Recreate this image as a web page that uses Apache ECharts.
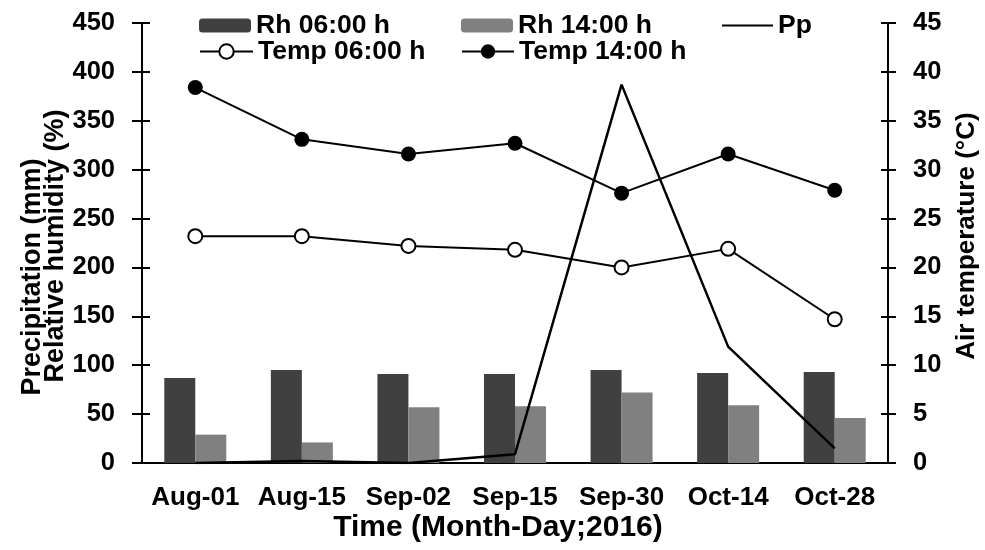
<!DOCTYPE html>
<html>
<head>
<meta charset="utf-8">
<script src="https://cdn.jsdelivr.net/npm/echarts@6/dist/echarts.min.js"></script>
<style>html,body{margin:0;padding:0;background:#fff}#c{width:985px;height:550px}</style>
</head>
<body>
<div id="c"></div>
<script>
const categories = ['Aug-01','Aug-15','Sep-02','Sep-15','Sep-30','Oct-14','Oct-28'];
const rh06 = [87, 95, 91, 91, 95, 92, 93];
const rh14 = [29, 21, 57, 58, 72, 59, 46];
const pp = [0, 2, 0, 9, 387, 119, 15];
const temp06 = [23.2, 23.2, 22.2, 21.8, 20.0, 21.9, 14.7];
const temp14 = [38.4, 33.1, 31.6, 32.7, 27.6, 31.6, 27.9];
const leftAxis = {min: 0, max: 450, interval: 50};
const rightAxis = {min: 0, max: 45, interval: 5};

const FF = 'Liberation Sans, Arial, sans-serif';
const lbl = {fontFamily: FF, fontWeight: 'bold', fontSize: 25.5, color: '#000'};
const lineSt = {color: '#000', width: 2};

function legend(name, left, top, w, h, icon) {
  const l = {data: [name], left: left, top: top, itemWidth: w, itemHeight: h, padding: 0,
    itemGap: 0, textStyle: {fontFamily: FF, fontWeight: 'bold', fontSize: 26.5, color: '#000'}};
  if (icon) l.icon = icon;
  return l;
}

const chart = echarts.init(document.getElementById('c'), null, {renderer: 'canvas'});
chart.setOption({
  animation: false,
  backgroundColor: '#fff',
  grid: {left: 142, right: 97, top: 23, bottom: 87, containLabel: false},
  legend: [
    legend('Rh 06:00 h', 199, 12, 52, 14),
    legend('Rh 14:00 h', 461, 12, 52, 14),
    legend('Pp', 722, 12, 51, 2, 'rect'),
    legend('Temp 06:00 h', 199, 38, 53, 18),
    legend('Temp 14:00 h', 461, 38, 52, 18)
  ],
  xAxis: [
    {type: 'category', data: categories, position: 'bottom', boundaryGap: true,
     axisLine: {lineStyle: lineSt}, axisTick: {alignWithLabel: true, length: 7, lineStyle: lineSt},
     axisLabel: Object.assign({margin: 22, interval: 0}, lbl, {fontSize: 26}), splitLine: {show: false}},
    {type: 'category', data: categories, position: 'bottom', boundaryGap: true,
     axisLine: {show: false}, axisTick: {alignWithLabel: true, inside: true, length: 6, lineStyle: lineSt},
     axisLabel: {show: false}, splitLine: {show: false}}
  ],
  yAxis: [
    Object.assign({type: 'value', position: 'left',
     axisLine: {show: true, lineStyle: lineSt}, axisTick: {show: true, length: 10, lineStyle: lineSt},
     axisLabel: Object.assign({margin: 27}, lbl), splitLine: {show: false}}, leftAxis),
    Object.assign({type: 'value', position: 'right',
     axisLine: {show: true, lineStyle: lineSt}, axisTick: {show: true, length: 8, lineStyle: lineSt},
     axisLabel: Object.assign({margin: 25}, lbl), splitLine: {show: false}}, rightAxis),
    Object.assign({type: 'value', position: 'left',
     axisLine: {show: false}, axisTick: {show: true, inside: true, length: 8, lineStyle: lineSt},
     axisLabel: {show: false}, splitLine: {show: false}}, leftAxis),
    Object.assign({type: 'value', position: 'right',
     axisLine: {show: false}, axisTick: {show: true, inside: true, length: 7, lineStyle: lineSt},
     axisLabel: {show: false}, splitLine: {show: false}}, rightAxis)
  ],
  series: [
    {name: 'Rh 06:00 h', type: 'bar', data: rh06, barWidth: 31, barGap: '0%', itemStyle: {color: '#404040'}, yAxisIndex: 0},
    {name: 'Rh 14:00 h', type: 'bar', data: rh14, barWidth: 31, barGap: '0%', itemStyle: {color: '#808080'}, yAxisIndex: 0},
    {name: 'Pp', type: 'line', data: pp, yAxisIndex: 0, symbol: 'none', lineStyle: {color: '#000', width: 2.5}, itemStyle: {color: '#000'}, z: 3},
    {name: 'Temp 06:00 h', type: 'line', data: temp06, yAxisIndex: 1, symbol: 'emptyCircle', symbolSize: 14,
     lineStyle: lineSt, itemStyle: {color: '#000', borderWidth: 2}, z: 4},
    {name: 'Temp 14:00 h', type: 'line', data: temp14, yAxisIndex: 1, symbol: 'circle', symbolSize: 15,
     lineStyle: lineSt, itemStyle: {color: '#000'}, z: 4}
  ],
  graphic: [
    {type: 'text', x: 33, y: 277, rotation: Math.PI / 2,
     style: {text: 'Precipitation (mm)', font: 'bold 27px ' + FF, fill: '#000', textAlign: 'center', textVerticalAlign: 'middle'}},
    {type: 'text', x: 56, y: 246, rotation: Math.PI / 2,
     style: {text: 'Relative humidity (%)', font: 'bold 27px ' + FF, fill: '#000', textAlign: 'center', textVerticalAlign: 'middle'}},
    {type: 'text', x: 967, y: 236, rotation: Math.PI / 2,
     style: {text: 'Air temperature (°C)', font: 'bold 26px ' + FF, fill: '#000', textAlign: 'center', textVerticalAlign: 'middle'}},
    {type: 'text', x: 498, y: 528,
     style: {text: 'Time (Month-Day;2016)', font: 'bold 30px ' + FF, fill: '#000', textAlign: 'center', textVerticalAlign: 'middle'}}
  ]
});
</script>
</body>
</html>
